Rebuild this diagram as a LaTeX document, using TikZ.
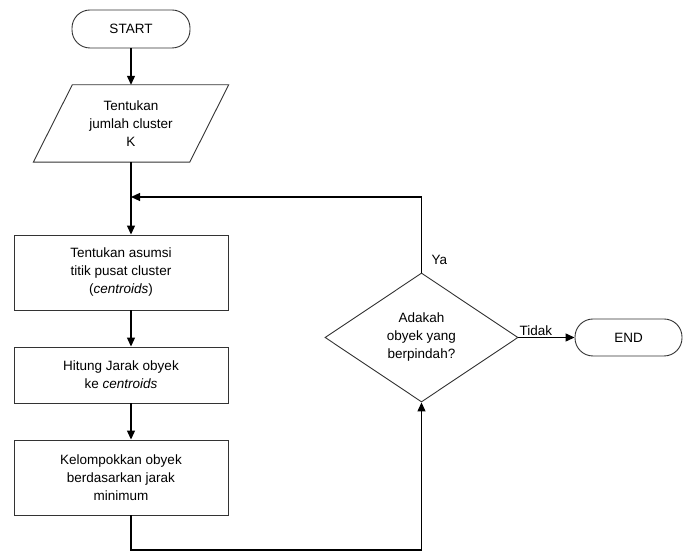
\documentclass[tikz,border=0pt]{standalone}
\usepackage{fontspec}
\setmainfont{Liberation Sans}
\usetikzlibrary{shapes.geometric,arrows.meta}
\begin{document}
\begin{tikzpicture}[x=1pt,y=1pt,
  every node/.style={font=\fontsize{13.5}{18}\selectfont, align=center},
  shp/.style={draw=black!80, line width=0.9pt},
  term/.style={shp, rectangle, rounded corners=18pt, inner sep=0pt},
  procbox/.style={shp, rectangle, minimum width=214pt, inner sep=0pt},
  conn/.style={draw=black, line width=1.2pt},
  arr/.style={conn, -{Triangle[length=9pt,width=8pt]}},
  lbl/.style={inner sep=1pt}
]
\useasboundingbox (0,0) rectangle (683,553);
% terminals
\node[term, minimum width=118pt, minimum height=38pt] (start) at (131,524) {START};
% input parallelogram
\node[minimum width=195pt, minimum height=77pt, inner sep=0pt] (para) at (131,429.5) {Tentukan\\jumlah cluster\\K};
\draw[shp] ([xshift=39pt]para.north west) -- (para.north east) -- ([xshift=-39pt]para.south east) -- (para.south west) -- cycle;
% process boxes
\node[procbox, minimum height=75pt] (b1) at (121,280.5) {Tentukan asumsi\\titik pusat cluster\\(\textit{centroids})};
\node[procbox, minimum height=56pt] (b2) at (121,178) {Hitung Jarak obyek\\ke \textit{centroids}};
\node[procbox, minimum height=75pt] (b3) at (121,75.5) {Kelompokkan obyek\\berdasarkan jarak\\minimum};
% decision
\node[shp, diamond, aspect=1.5, inner sep=0pt, minimum width=193pt, minimum height=129pt] (dec) at (421.5,215.5) {Adakah\\obyek yang\\berpindah?};
\node[term, minimum width=107pt, minimum height=37pt] (end) at (628.5,215.5) {END};
% helper coordinates
\coordinate (J) at (131,356);
\coordinate (B) at (131,3);
% connectors
\draw[arr] (start.south) -- (para.north -| start.south);
\draw[arr] (para.south -| start.south) -- (b1.north -| start.south);
\draw[arr] (b1.south -| start.south) -- (b2.north -| start.south);
\draw[arr] (b2.south -| start.south) -- (b3.north -| start.south);
\draw[arr] (dec.north) -- (dec.north |- J) -- (J);
\draw[arr] (b3.south -| B) -- (B) -- (B -| dec.south) -- (dec.south);
\draw[arr] (dec.east) -- (end.west);
% labels
\node[lbl, anchor=south west] (tidak) at ([yshift=1pt]dec.east) {Tidak};
\node[lbl, anchor=south west] (ya) at ([xshift=9pt,yshift=7pt]dec.north) {Ya};
\end{tikzpicture}
\end{document}
